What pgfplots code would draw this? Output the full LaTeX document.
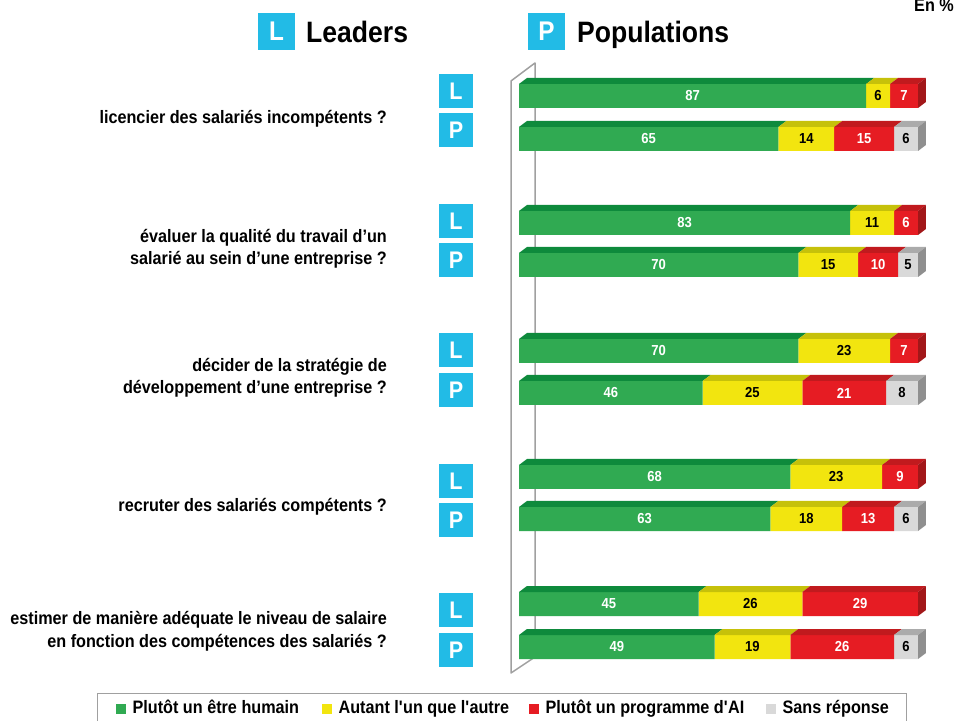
\documentclass[border=0pt]{standalone}
\usepackage{pgfplots}
\pgfplotsset{compat=1.18}
\usepackage{pgfplotstable}
\usepackage{fontspec}
\setmainfont{Liberation Sans}[FakeStretch=0.9]

\definecolor{cgreen}{HTML}{30AA52}
\definecolor{tgreen}{HTML}{0E8A3C}
\definecolor{cyellow}{HTML}{F2E50F}
\definecolor{tyellow}{HTML}{C6C10A}
\definecolor{cred}{HTML}{E61C23}
\definecolor{tred}{HTML}{C11A1E}
\definecolor{sred}{HTML}{A21719}
\definecolor{cgray}{HTML}{D9D9D9}
\definecolor{tgray}{HTML}{ABABAB}
\definecolor{sgray}{HTML}{8F8F8F}
\definecolor{cblue}{HTML}{22BBE6}
\definecolor{cframe}{HTML}{A0A0A0}

% y = minus the row's centre (pixels from top); h = humain, a = autant, b = AI, c = sans reponse
\pgfplotstableread{
y h a b c
-96 87 6 7 0
-139 65 14 15 6
-223 83 11 6 0
-265 70 15 10 5
-351 70 23 7 0
-393 46 25 21 8
-477 68 23 9 0
-519 63 18 13 6
-604 45 26 29 0
-647 49 19 26 6
}\data

\newcommand\topface[3]{%
  \pgfmathsetmacro\qa{#1}\pgfmathsetmacro\qb{#2}%
  \pgfmathsetmacro\qc{#2+2}\pgfmathsetmacro\qd{#1+2}%
  \edef\tmp{\noexpand\addplot[fill=#3, draw=none, forget plot] coordinates {(\qa,\yt) (\qb,\yt) (\qc,\ytt) (\qd,\ytt)};}\tmp}
\newcommand\sideface[2]{%
  \pgfmathsetmacro\qa{#1}\pgfmathsetmacro\qc{#1+2}\pgfmathsetmacro\ym{\yb+6}%
  \edef\tmp{\noexpand\addplot[fill=#2, draw=none, forget plot] coordinates {(\qa,\yb) (\qc,\ym) (\qc,\ytt) (\qa,\yt)};}\tmp}
\newcommand\deco[5]{%
  \pgfmathsetmacro\yb{#1-12}\pgfmathsetmacro\yt{#1+12}\pgfmathsetmacro\ytt{#1+18}%
  \pgfmathsetmacro\sa{#2}\pgfmathsetmacro\sb{#2+#3}%
  \pgfmathsetmacro\sc{#2+#3+#4}\pgfmathsetmacro\sd{#2+#3+#4+#5}%
  \topface{0}{\sa}{tgreen}%
  \topface{\sa}{\sb}{tyellow}%
  \topface{\sb}{\sc}{tred}%
  \ifdim #5pt>0pt \topface{\sc}{\sd}{tgray}\sideface{\sd}{sgray}\else\sideface{\sc}{sred}\fi}

\pgfplotsset{myax/.style={hide axis, x=3.99pt, y=1pt, xmin=0, xmax=100, ymin=-720, ymax=0,
  at={(519pt,0pt)}, anchor=south west, clip=false,
  /pgf/number format/assume math mode=true}}

\newcommand\catfont{\fontsize{18}{22}\selectfont\bfseries}
\newcommand\lblfont{\fontsize{14.5}{16}\selectfont\bfseries}

\begin{document}
\begin{tikzpicture}[x=1pt,y=1pt]
\useasboundingbox (0,0) rectangle (957,720);
\clip (0,0) rectangle (957,720);

% headers
\node[fill=cblue, minimum size=37pt, inner sep=0pt, text=white, font=\fontsize{27}{27}\selectfont\bfseries] at (276.5,688.5) {L};
\node[anchor=base west, inner sep=0pt, font=\fontsize{29.5}{30}\selectfont\bfseries] at (306,677) {Leaders};
\node[fill=cblue, minimum size=37pt, inner sep=0pt, text=white, font=\fontsize{27}{27}\selectfont\bfseries] at (546.5,688.5) {P};
\node[anchor=base west, inner sep=0pt, font=\fontsize{29.5}{30}\selectfont\bfseries] at (577,677) {Populations};
\node[anchor=base west, inner sep=0pt, font=\fontsize{18}{18}\selectfont\bfseries] at (914,708) {En \%};

% category labels
\begin{scope}[every node/.style={anchor=base east, inner sep=0pt, font=\catfont}]
\node at (387,596) {licencier des salariés incompétents ?};
\node at (387,477) {évaluer la qualité du travail d’un};
\node at (387,455) {salarié au sein d’une entreprise ?};
\node at (387,348) {décider de la stratégie de};
\node at (387,326) {développement d’une entreprise ?};
\node at (387,208) {recruter des salariés compétents ?};
\node at (387,96) {estimer de manière adéquate le niveau de salaire};
\node at (387,73) {en fonction des compétences des salariés ?};
\end{scope}

% L / P boxes
\begin{scope}[every node/.style={fill=cblue, minimum size=34pt, inner sep=0pt, text=white, font=\fontsize{24}{24}\selectfont\bfseries}]
\node at (456,629) {L}; \node at (456,590) {P};
\node at (456,499) {L}; \node at (456,460) {P};
\node at (456,369.5) {L}; \node at (456,330) {P};
\node at (456,239) {L}; \node at (456,200) {P};
\node at (456,110) {L}; \node at (456,70) {P};
\end{scope}

% 3D wall frame
\draw[cframe, line width=1.5pt, line join=round] (535,63) -- (535,657) -- (511,639) -- (511,47) -- cycle;

% front faces
\begin{axis}[myax, xbar stacked, bar width=24pt,
  legend columns=4,
  legend image code/.code={\fill[#1] (0pt,-5pt) rectangle (10pt,5pt); \path (17pt,0pt);},
  legend style={at={(axis description cs:-1.0576,0.0375)}, anchor=north west,
    draw=cframe, line width=1.2pt, inner xsep=18pt, inner ysep=6pt,
    font=\fontsize{18}{20}\selectfont\bfseries,
    /tikz/every even column/.style={column sep=0pt},
    /tikz/every odd column/.style={column sep=0pt},
    nodes={inner xsep=0pt, inner ysep=1pt, text height=13pt, text depth=4pt}}]
\addplot[fill=cgreen, draw=none] table[x=h, y=y] \data;
\addlegendentry{\makebox[189pt][l]{Plutôt un être humain}}
\addplot[fill=cyellow, draw=none] table[x=a, y=y] \data;
\addlegendentry{\makebox[190pt][l]{Autant l\textquotesingle un que l\textquotesingle autre}}
\addplot[fill=cred, draw=none] table[x=b, y=y] \data;
\addlegendentry{\makebox[220pt][l]{Plutôt un programme d\textquotesingle AI}}
\addplot[fill=cgray, draw=none] table[x=c, y=y] \data;
\addlegendentry{Sans réponse}
\end{axis}

% 3D faces and value labels
\begin{axis}[myax]
\pgfplotsinvokeforeach{0,...,9}{%
  \pgfplotstablegetelem{#1}{y}\of\data\let\ry\pgfplotsretval
  \pgfplotstablegetelem{#1}{h}\of\data\let\rh\pgfplotsretval
  \pgfplotstablegetelem{#1}{a}\of\data\let\ra\pgfplotsretval
  \pgfplotstablegetelem{#1}{b}\of\data\let\rb\pgfplotsretval
  \pgfplotstablegetelem{#1}{c}\of\data\let\rc\pgfplotsretval
  \deco{\ry}{\rh}{\ra}{\rb}{\rc}
}
\addplot[draw=none, nodes near coords, point meta=explicit,
  every node near coord/.append style={anchor=center, text=white, font=\lblfont}]
  table[x expr=\thisrow{h}/2, y=y, meta=h] \data;
\addplot[draw=none, nodes near coords, point meta=explicit,
  every node near coord/.append style={anchor=center, text=black, font=\lblfont}]
  table[x expr=\thisrow{h}+\thisrow{a}/2, y=y, meta=a] \data;
\addplot[draw=none, nodes near coords, point meta=explicit,
  every node near coord/.append style={anchor=center, text=white, font=\lblfont}]
  table[x expr=\thisrow{h}+\thisrow{a}+\thisrow{b}/2, y=y, meta=b] \data;
\addplot[draw=none, nodes near coords, point meta=explicit,
  restrict expr to domain={\thisrow{c}}{1:100},
  every node near coord/.append style={anchor=center, text=black, font=\lblfont}]
  table[x expr=\thisrow{h}+\thisrow{a}+\thisrow{b}+\thisrow{c}/2, y=y, meta=c] \data;
\end{axis}
\end{tikzpicture}
\end{document}
